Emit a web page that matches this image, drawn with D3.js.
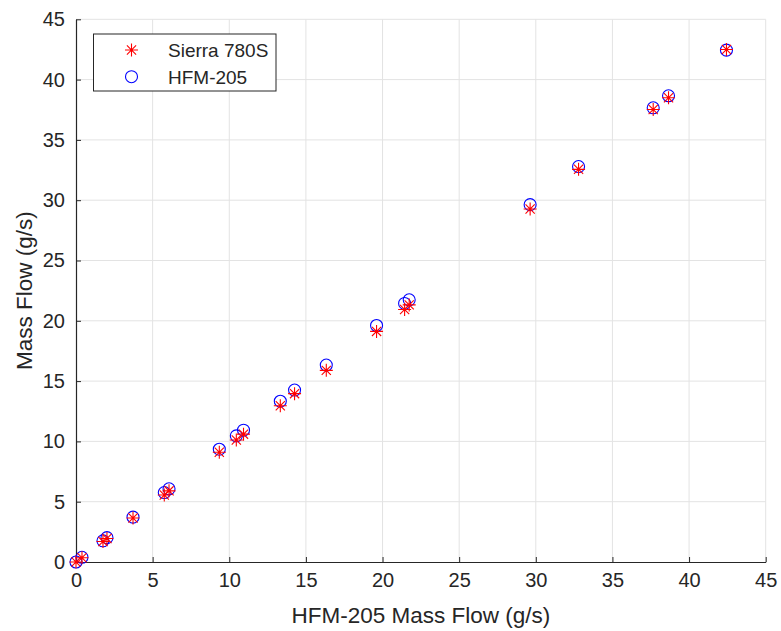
<!DOCTYPE html>
<html>
<head>
<meta charset="utf-8">
<script src="https://cdn.jsdelivr.net/npm/d3@7"></script>
<style>
  html, body { margin: 0; padding: 0; background: #ffffff; }
  svg { display: block; font-family: "Liberation Sans", Arial, Helvetica, sans-serif; }
</style>
</head>
<body>
<svg id="chart" width="781" height="631"></svg>
<script>
// Reference flow meter readings (g/s), one entry per test point
const hfmFlow = [0.0, 0.39, 1.76, 2.02, 3.72, 5.76, 6.07, 9.35, 10.46, 10.93, 13.33,
                 14.26, 16.33, 19.61, 21.44, 21.74, 29.63, 32.79, 37.66, 38.66, 42.44];
// Sierra 780S readings at the same test points (g/s)
const sierraFlow = [0.0, 0.35, 1.70, 1.95, 3.65, 5.55, 5.90, 9.10, 10.12, 10.60, 12.96,
                    13.96, 15.89, 19.12, 20.94, 21.32, 29.27, 32.56, 37.52, 38.49, 42.49];
// HFM-205 plotted against itself
const hfmSelf = hfmFlow.slice();

const xTicks = [0, 5, 10, 15, 20, 25, 30, 35, 40, 45];
const yTicks = [0, 5, 10, 15, 20, 25, 30, 35, 40, 45];
const seriesNames = ["Sierra 780S", "HFM-205"];
const xLabel = "HFM-205 Mass Flow (g/s)";
const yLabel = "Mass Flow (g/s)";

const ink = "#262626";
const svg = d3.select("#chart");

const plot = { left: 76, right: 765.7, top: 19.3, bottom: 562 };
const x = d3.scaleLinear().domain([0, 45]).range([plot.left, plot.right]);
const y = d3.scaleLinear().domain([0, 45]).range([plot.bottom, plot.top]);

// grid
const grid = svg.append("g").attr("stroke", "#e3e3e3").attr("stroke-width", 1);
grid.selectAll("line.gx").data(xTicks.filter(d => d > 0)).join("line")
  .attr("x1", d => x(d)).attr("x2", d => x(d))
  .attr("y1", plot.top).attr("y2", plot.bottom);
grid.selectAll("line.gy").data(yTicks.filter(d => d > 0)).join("line")
  .attr("y1", d => y(d)).attr("y2", d => y(d))
  .attr("x1", plot.left).attr("x2", plot.right);

// axes with inward ticks
const xAxis = d3.axisBottom(x).tickValues(xTicks).tickSizeInner(-5).tickSizeOuter(0).tickPadding(11);
const yAxis = d3.axisLeft(y).tickValues(yTicks).tickSizeInner(-5).tickSizeOuter(0).tickPadding(11);

const gx = svg.append("g").attr("transform", `translate(0,${plot.bottom})`).call(xAxis);
const gy = svg.append("g").attr("transform", `translate(${plot.left},0)`).call(yAxis);
[gx, gy].forEach(g => {
  g.select(".domain").attr("stroke", ink).attr("stroke-width", 1.2);
  g.selectAll(".tick line").attr("stroke", ink).attr("stroke-width", 1);
  g.selectAll(".tick text").attr("fill", ink).attr("font-size", 20)
    .attr("font-family", "'Liberation Sans', Arial, sans-serif");
});
gx.selectAll(".tick text").attr("dy", "0.71em");

// axis titles
svg.append("text").attr("x", (plot.left + plot.right) / 2).attr("y", 623)
  .attr("text-anchor", "middle").attr("fill", ink).attr("font-size", 22.5)
  .text(xLabel);
svg.append("text").attr("transform", `translate(32,${(plot.top + plot.bottom) / 2}) rotate(-90)`)
  .attr("text-anchor", "middle").attr("fill", ink).attr("font-size", 22.5)
  .text(yLabel);

// marker shapes
function asterisk(g, r) {
  const d = r * Math.SQRT1_2;
  const p = `M${-r},0L${r},0M0,${-r}L0,${r}M${-d},${-d}L${d},${d}M${-d},${d}L${d},${-d}`;
  g.append("path").attr("d", p).attr("stroke", "#ff0000").attr("stroke-width", 1.1).attr("fill", "none");
}

const pts = hfmFlow.map((v, i) => ({ x: v, hfm: hfmSelf[i], sierra: sierraFlow[i] }));

svg.append("g").selectAll("circle").data(pts).join("circle")
  .attr("cx", d => x(d.x)).attr("cy", d => y(d.hfm)).attr("r", 6)
  .attr("fill", "none").attr("stroke", "#0000ff").attr("stroke-width", 1.1);

svg.append("g").selectAll("g").data(pts).join("g")
  .attr("transform", d => `translate(${x(d.x)},${y(d.sierra)})`)
  .each(function () { asterisk(d3.select(this), 6.5); });

// legend
const lg = svg.append("g");
lg.append("rect").attr("x", 93.5).attr("y", 34).attr("width", 182.5).attr("height", 57)
  .attr("fill", "#ffffff").attr("stroke", ink).attr("stroke-width", 1);
asterisk(lg.append("g").attr("transform", "translate(131.5,50)"), 6.5);
lg.append("circle").attr("cx", 131.5).attr("cy", 76.7).attr("r", 6)
  .attr("fill", "none").attr("stroke", "#0000ff").attr("stroke-width", 1.1);
lg.append("text").attr("x", 168).attr("y", 57.3).attr("font-size", 19).attr("fill", ink).text(seriesNames[0]);
lg.append("text").attr("x", 168).attr("y", 84).attr("font-size", 19).attr("fill", ink).text(seriesNames[1]);
</script>
</body>
</html>
